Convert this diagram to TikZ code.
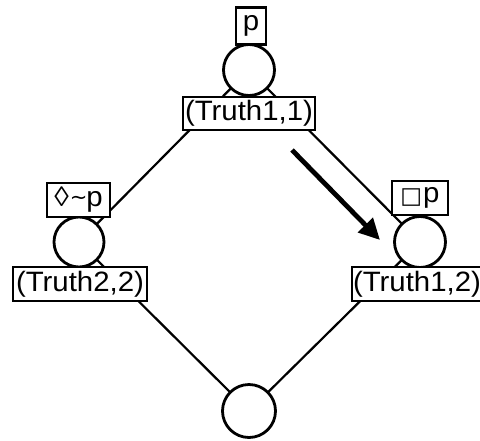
\documentclass[tikz,border=0pt]{standalone}
\usepackage{fontspec}
\setmainfont{Liberation Sans}[FakeStretch=1.05]
\newfontfamily\symfont{DejaVu Sans}
\usetikzlibrary{arrows.meta,backgrounds}
\begin{document}
\begin{tikzpicture}[x=1pt,y=-1pt,
  world/.style={circle,draw,line width=2.8pt,fill=white,inner sep=0pt,minimum size=#1},
  tbox/.style={draw,line width=2.5pt,fill=white,inner sep=0pt,font=\fontsize{28}{28}\selectfont},
  link/.style={line width=2.2pt},
  bigarrow/.style={line width=4.8pt,-{Triangle[length=21pt,width=20pt]}}]
\useasboundingbox (0,0) rectangle (480,440);
% worlds
\node[world=51pt] (c1) at (249,70) {};
\node[world=50pt] (c2) at (79,242) {};
\node[world=51pt] (c3) at (420,242) {};
\node[world=53pt] (c4) at (249,411) {};
% formula labels
\node[tbox,minimum width=30pt,minimum height=37pt] (l1) at (251,26) {p};
\node[tbox,minimum width=63pt,minimum height=34pt] (l2) at (78.5,200) {◊\kern1pt\raisebox{2pt}{\symfont\fontsize{21}{21}\selectfont\char"223C}\kern-1pt p};
\node[tbox,minimum width=56pt,minimum height=34pt] (l3) at (420,198) {\raisebox{-1pt}{\symfont\fontsize{23}{23}\selectfont □}\kern1pt p};
% state labels
\node[tbox,minimum width=132pt,minimum height=33pt] (t1) at (249,113.5) {(Truth1,1)};
\node[tbox,minimum width=134pt,minimum height=34pt] (t2) at (80,284) {(Truth2,2)};
\node[tbox,minimum width=130pt,minimum height=34pt] (t3) at (417,284) {(Truth1,2)};
% links
\begin{scope}[on background layer]
\draw[link] (c1.center) -- (c2.center);
\draw[link] (c1.center) -- (c3.center);
\draw[link] (c2.center) -- (c4.center);
\draw[link] (c3.center) -- (c4.center);
\end{scope}
% transition arrow
\coordinate (a0) at (292,150);
\coordinate (a1) at (380,240);
\draw[bigarrow] (a0) -- (a1);
\end{tikzpicture}
\end{document}
